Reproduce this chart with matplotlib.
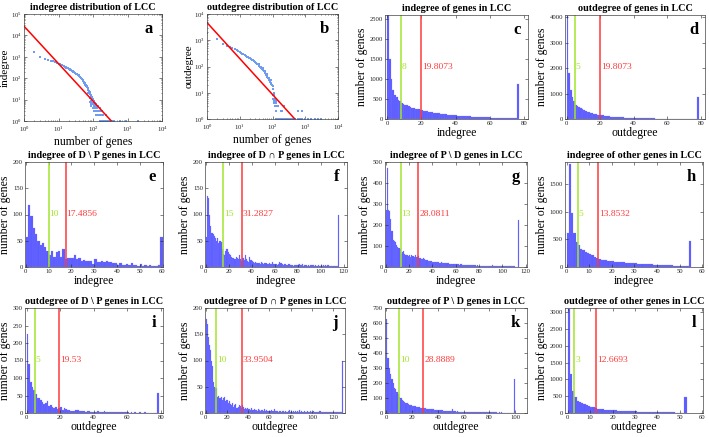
import numpy as np
import matplotlib
matplotlib.use('Agg')
import matplotlib.pyplot as plt

plt.rcParams['font.family'] = 'Liberation Serif'
plt.rcParams['mathtext.fontset'] = 'custom'
plt.rcParams['mathtext.rm'] = 'Liberation Serif'

# --- data: degree distributions (a, b) ---
a_x = [1,2,3,4,5,6,7,8,9,10,11,12,13,14,15,16,17,18,19,20,21,22,23,24,25,26,27,28,29,30,
       32,34,36,38,40,42,44,46,48,50,52,54,56,58,60,62,64,66,68,70,72,74,76,78,80,82,84,86,88,90,92,95,98,100,
       104,108,112,116,120,125,130,135,140,150,160,170,180,190,200,220,240,260,
       45,50,55,60,65,70,75,80,85,90,95,100,105,110,115,120,130,140,150,160,
       70,80,90,100,110,120,140,160,180,
       160,175,190,210,230,250,280,300,330,360,400,600,900,2000]
a_y = [2600,1600,1000,800,720,660,610,560,520,480,455,420,395,370,350,330,315,300,285,270,258,246,235,225,220,210,200,190,185,180,
       165,155,145,135,125,118,105,100,92,85,78,70,66,60,55,50,45,42,38,35,32,28,26,24,22,20,18,17,15,14,13,12,11,10,
       9,8,7,6,6,5,4,4,3,3,2,2,2,2,2,1,2,1,
       100,72,58,46,40,28,24,8,6,5,7,4,5,3,4,2,3,5,2,3,
       20,12,9,6,4,3,2,4,3,
       1,1,1,1,1,1,1,1,1,1,1,1,1,1]
a_fit_x = [1, 340]
a_fit_y = [2.7e4, 1]

b_x = [1,2,3,4,5,6,7,8,9,10,11,12,13,14,15,16,17,18,19,20,22,24,26,28,30,32,34,36,38,40,42,44,46,48,50,52,55,58,60,62,65,68,70,72,75,78,80,83,86,90,93,96,100,105,110,115,120,125,130,140,
       40,50,60,70,80,90,100,105,110,115,120,125,130,150,180,200,230,600,800,
       130,145,160,180,200,230,260,300,350,400,450,500,600,700,800,1000,1200,1500,2000,2500,3000]
b_y = [1850,1100,700,600,540,500,460,420,380,350,330,310,290,275,260,250,240,230,220,210,195,180,170,160,150,140,130,120,115,105,100,95,88,82,76,72,66,60,56,52,48,44,40,38,35,32,30,28,26,24,22,20,18,14,10,8,6,5,4,3,
       120,90,65,50,38,30,8,6,5,4,3,2,2,3,2,2,3,2,2,
       1,1,1,1,1,1,1,1,1,1,1,1,1,1,1,1,1,1,1,1,1]
b_fit_x = [1, 480]
b_fit_y = [4.7e3, 1]

# --- data: histogram counts per integer degree (c .. l) ---
c_counts = [2600,1500,1000,730,600,540,480,440,400,380, 360,340,320,300,285,270,260,250,240,230,
            220,210,200,195,185,178,170,162,155,148, 142,136,130,124,118,112,107,102,98,94,
            90,86,82,78,75,72,69,66,63,60, 58,55,53,51,49,47,45,43,41,39,
            37,35,33,31,30,29,28,27,26,25, 24,23,22,21,20,19,870]
d_counts = [4050,1800,1120,880,700,530,500,460,420,380, 350,320,290,265,245,225,205,190,175,160,
            150,140,130,120,112,105,98,92,86,80, 75,70,66,62,58,55,52,49,46,43,
            40,38,36,34,32,30,28,26,25,24, 22,21,20,19,18,17,16,15,14,13,
            12,12,11,11,10,10,9,9,8,8, 7,7,6,6,5,5,5,5,880]
e_counts = [57,118,98,75,62,50,42,45,38,30, 22,30,20,28,30,20,35,15,17,17,
            18,22,15,18,12,14,12,12,12,6, 15,9,10,11,10,12,10,10,7,7,
            3,7,3,4,5,4,8,3,4,2, 5,2,3,2,4,2,2,2,3,58]
f_counts = [58,135,132,100,78,65,62,60,55,50, 55,45,50,48,35,25,22,30,35,28,
            25,22,20,18,18,15,20,18,16,22, 15,12,18,14,22,16,12,10,20,14,
            12,10,8,9,8,7,8,6,9,7, 6,8,7,6,5,7,6,5,9,6,
            5,6,4,5,10,8,5,4,6,5, 4,3,5,4,3,4,2,3,3,4,
            3,5,4,3,6,2,3,4,2,3, 2,3,3,4,2,3,2,2,3,2,
            4,2,3,2,4,2,3,2,2,1, 2,1,2,1,1,100]
g_counts = [270,470,270,265,230,170,130,125,120,105, 95,90,85,60,70,75,60,55,55,52,
            55,50,55,52,50,55,50,48,52,45, 40,38,42,36,35,32,30,30,28,28,
            26,25,24,25,22,22,20,22,20,18, 20,18,17,18,15,16,15,14,15,13,
            12,13,12,11,12,10,11,10,10,9, 10,9,9,8,9,8,8,7,8,7,
            7,7,6,7,6,6,6,5,6,5, 5,10,5,5,4,5,4,5,4,4,
            4,3,4,3,4,3,3,3,3,3, 3,2,2,225]
h_counts = [620,1870,980,620,460,390,330,300,270,250, 230,210,190,170,140,130,125,120,115,110,
            100,98,95,90,85,82,80,78,75,70, 65,62,60,58,55,52,50,48,45,42,
            40,38,36,34,32,30,28,27,26,25, 24,22,20,18,470]
i_counts = [225,140,90,75,65,55,42,42,38,32, 25,30,35,20,22,18,15,18,12,15,
            18,10,14,12,8,10,7,6,5,8, 8,6,5,6,5,4,7,5,4,3,
            4,3,5,3,3,4,5,2,3,2, 4,2,3,2,2,3,2,2,3,2,
            2,1,2,1,2,1,1,2,1,1, 3,1,1,1,1,1,1,1,58]
j_counts = [180,170,145,130,120,100,90,60,50,48, 48,30,32,28,30,25,28,30,22,24,
            25,20,22,18,15,20,12,15,18,10, 12,15,14,10,16,12,8,10,7,9,
            8,7,6,10,6,8,5,6,4,7, 5,4,6,5,3,7,4,5,3,4,
            3,5,4,3,8,3,4,3,2,4, 3,2,3,4,2,3,2,3,5,2,
            3,2,4,2,3,2,3,2,6,2, 3,2,3,2,2,3,2,2,3,2,
            2,3,2,2,1,2,2,3,2,1, 2,1,2,1,2,1,1,2,1,1,
            1,1,1,1,1,1,1,1,100]
k_counts = [630,370,300,260,230,200,170,160,140,130, 105,100,90,80,75,70,65,60,55,52,
            50,48,45,42,40,38,36,35,34,33, 32,30,30,28,25,26,24,22,22,20,
            20,18,18,17,16,15,14,16,14,13, 12,24,12,11,10,11,10,10,9,10,
            9,8,9,8,8,7,8,7,7,6, 7,6,6,5,6,5,5,6,5,5,
            4,5,4,5,4,4,3,4,3,4, 3,3,3,2,3,2,2,2,2,225]
l_counts = [3100,1150,650,480,370,340,300,270,240,210, 190,170,150,130,120,110,100,95,90,85,
            80,75,70,65,62,58,55,52,50,48, 45,42,40,38,36,34,32,30,28,26,
            25,24,22,20,18,17,16,15,14,13, 12,11,480]

medians = [8, 5, 10, 15, 13, 5, 5, 10, 10, 3]
means = [19.8073, 19.8073, 17.4856, 31.2827, 28.0811, 13.8532, 19.53, 33.9504, 28.8889, 12.6693]
mean_labels = ['19.8073', '19.8073', '17.4856', '31.2827', '28.0811', '13.8532', '19.53', '33.9504', '28.8889', '12.6693']
titles = ['indegree of genes in LCC', 'outdegree of genes in LCC',
          'indegree of D \\ P genes in LCC', 'indegree of D \u2229 P genes in LCC',
          'indegree of P \\ D genes in LCC', 'indegree of other genes in LCC',
          'outdegree of D \\ P genes in LCC', 'outdegree of D \u2229 P genes in LCC',
          'outdegree of P \\ D genes in LCC', 'outdegree of other genes in LCC']
letters = ['c', 'd', 'e', 'f', 'g', 'h', 'i', 'j', 'k', 'l']
xlabels = ['indegree', 'outdegree', 'indegree', 'indegree', 'indegree', 'indegree',
           'outdegree', 'outdegree', 'outdegree', 'outdegree']
xlims = [(-1.4, 82.5), (-1, 82.6), (-0.4, 60.2), (-0.6, 123), (-0.5, 121), (-0.7, 60.3),
         (-1, 81.4), (-0.6, 131), (-0.8, 109), (-1.2, 60.3)]
xtick_steps = [20, 20, 10, 20, 20, 10, 20, 20, 20, 10]
xtick_max = [80, 80, 60, 120, 120, 60, 80, 120, 100, 60]
ylims = [2600, 4080, 200, 200, 500, 1900, 300, 200, 700, 3120]
ytick_steps = [500, 1000, 50, 50, 100, 500, 50, 50, 100, 500]
all_counts = [c_counts, d_counts, e_counts, f_counts, g_counts, h_counts,
              i_counts, j_counts, k_counts, l_counts]

# axes boxes in pixels (left, top, right, bottom)
boxes = [(385,15,528,119), (565,15,705,119),
         (25,162,163,267), (205,162,347,267), (385,162,527,267), (565,162,703,267),
         (25,308,163,413), (205,308,345,413), (385,308,527,413), (565,308,703,413)]

W, H = 709, 437
GREEN = '#a2e42c'
RED = '#ff3a3a'
BAR = '#5c5cff'
PTS = '#6f9bf0'

fig = plt.figure(figsize=(W/100, H/100), dpi=100)

def box(l, t, r, b):
    return [l/W, 1-b/H, (r-l)/W, (b-t)/H]

def style(ax, xpad=1.5):
    ax.tick_params(which='both', direction='in', top=True, right=True, length=2,
                   width=0.4, labelsize=4.8, pad=1.5, colors='#222222')
    ax.tick_params(axis='x', pad=xpad)
    ax.tick_params(which='minor', length=1)
    for s in ax.spines.values():
        s.set_linewidth(0.5)
        s.set_color('#444444')

def scatter_panel(rect, x, y, fx, fy, ytop, title, ylabel, letter):
    ax = fig.add_axes(box(*rect))
    ax.set_xscale('log')
    ax.set_yscale('log')
    ax.plot(x, y, 's', color=PTS, ms=1.9, mew=0)
    ax.plot(fx, fy, color='red', lw=1.1)
    ax.set_xlim(1, 1e4)
    ax.set_ylim(1, ytop)
    ax.set_title(title, fontsize=7.3, fontweight='bold', pad=3)
    ax.set_xlabel('number of genes', fontsize=8.5, labelpad=1)
    ax.set_ylabel(ylabel, fontsize=8, labelpad=0)
    ax.text(0.93, 0.86, letter, transform=ax.transAxes, fontsize=12,
            fontweight='bold', ha='right', va='center')
    style(ax, xpad=3)
    return ax

ax_a = scatter_panel((24,14,162,121), a_x, a_y, a_fit_x, a_fit_y, 1e5,
                     'indegree distribution of LCC', 'indegree', 'a')
ax_a.yaxis.set_label_coords(-0.1, 0.5)
scatter_panel((207,14,338,119), b_x, b_y, b_fit_x, b_fit_y, 1e4,
              'outdegree distribution of LCC', 'outdegree', 'b')

for n in range(10):
    ax = fig.add_axes(box(*boxes[n]))
    counts = all_counts[n]
    ax.bar(np.arange(len(counts)), counts, width=1, align='edge',
           color=BAR, edgecolor='#7a7aff', linewidth=0.15)
    ax.axvline(medians[n], color=GREEN, lw=1.1)
    ax.axvline(means[n], color=RED, lw=1.1)
    ymid = ylims[n] / 2
    ax.annotate(str(medians[n]), (medians[n], ymid), xytext=(0.6, 0),
                textcoords='offset points', color=GREEN, fontsize=6.8, va='center')
    ax.annotate(mean_labels[n], (means[n], ymid), xytext=(0.6, 0),
                textcoords='offset points', color=RED, fontsize=6.8, va='center')
    ax.set_xlim(*xlims[n])
    ax.set_ylim(0, ylims[n])
    ax.set_xticks(np.arange(0, xtick_max[n] + 1, xtick_steps[n]))
    ax.set_yticks(np.arange(0, ylims[n] + 1, ytick_steps[n]))
    ax.set_title(titles[n], fontsize=7.3, fontweight='bold', pad=3)
    ax.set_xlabel(xlabels[n], fontsize=8.5, labelpad=1)
    ax.set_ylabel('number of genes', fontsize=8.5, labelpad=1)
    ax.text(0.95, 0.86, letters[n], transform=ax.transAxes, fontsize=12,
            fontweight='bold', ha='right', va='center')
    style(ax)

fig.savefig('out.png', dpi=100)
